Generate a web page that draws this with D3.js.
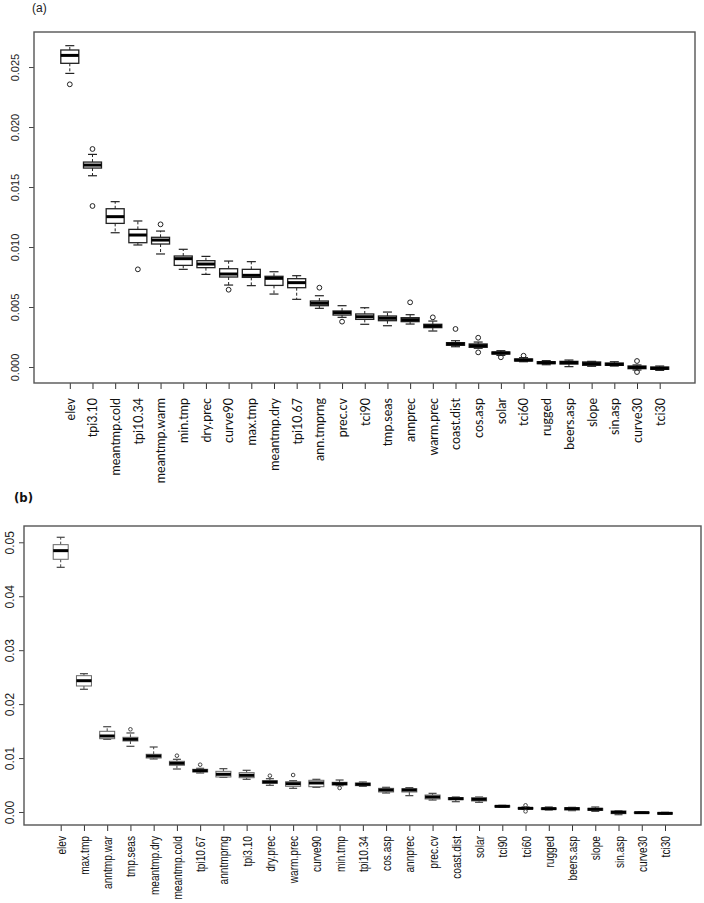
<!DOCTYPE html>
<html><head><meta charset="utf-8">
<script src="https://cdn.jsdelivr.net/npm/d3@7"></script>
<style>
html,body{margin:0;padding:0;background:#fff;}
svg{display:block;}
</style></head>
<body>
<svg id="c" width="704" height="903"></svg>
<script>
// ---------- Panel (a) data ----------
const catsA = ["elev","tpi3.10","meantmp.cold","tpi10.34","meantmp.warm","min.tmp","dry.prec","curve90","max.tmp","meantmp.dry","tpi10.67","ann.tmprng","prec.cv","tci90","tmp.seas","annprec","warm.prec","coast.dist","cos.asp","solar","tci60","rugged","beers.asp","slope","sin.asp","curve30","tci30"];
const loA  = [0.02447,0.01594,0.01119,0.01017,0.00942,0.00814,0.00772,0.00683,0.00678,0.00608,0.00564,0.00489,0.00414,0.00356,0.00344,0.00358,0.00300,0.00169,0.00156,0.00097,0.00044,0.00019,0.00003,0.00006,0.00008,-0.00025,-0.00028];
const q1A  = [0.02531,0.01658,0.01197,0.01036,0.01025,0.00847,0.00828,0.00750,0.00747,0.00680,0.00661,0.00511,0.00433,0.00397,0.00386,0.00378,0.00328,0.00181,0.00164,0.00108,0.00050,0.00028,0.00025,0.00014,0.00014,-0.00014,-0.00019];
const medA = [0.02597,0.01683,0.01253,0.01100,0.01058,0.00903,0.00858,0.00775,0.00764,0.00739,0.00703,0.00531,0.00453,0.00419,0.00406,0.00394,0.00342,0.00192,0.00178,0.00117,0.00058,0.00036,0.00036,0.00028,0.00022,-0.00003,-0.00011];
const q3A  = [0.02642,0.01708,0.01319,0.01147,0.01081,0.00925,0.00886,0.00819,0.00814,0.00756,0.00736,0.00550,0.00467,0.00442,0.00425,0.00411,0.00356,0.00203,0.00192,0.00125,0.00067,0.00044,0.00047,0.00042,0.00033,0.00008,0.00000];
const hiA  = [0.02678,0.01772,0.01378,0.01217,0.01133,0.00981,0.00922,0.00883,0.00878,0.00794,0.00761,0.00594,0.00511,0.00494,0.00458,0.00436,0.00383,0.00219,0.00208,0.00136,0.00078,0.00053,0.00058,0.00047,0.00044,0.00017,0.00008];
const outCatA = ["elev","tpi3.10","tpi3.10","tpi10.34","meantmp.warm","curve90","ann.tmprng","prec.cv","annprec","warm.prec","coast.dist","cos.asp","cos.asp","solar","tci60","curve30","curve30"];
const outValA = [0.02356,0.01817,0.01342,0.00814,0.01189,0.00644,0.00661,0.00378,0.00539,0.00414,0.00317,0.00244,0.00122,0.00081,0.00094,0.00050,-0.00042];
const yTicksA = [0.000,0.005,0.010,0.015,0.020,0.025];
const yTickLabelsA = ["0.000","0.005","0.010","0.015","0.020","0.025"];

// ---------- Panel (b) data ----------
const catsB = ["elev","max.tmp","anntmp.war","tmp.seas","meantmp.dry","meantmp.cold","tpi10.67","anntmprng","tpi3.10","dry.prec","warm.prec","curve90","min.tmp","tpi10.34","cos.asp","annprec","prec.cv","coast.dist","solar","tci90","tci60","rugged","beers.asp","slope","sin.asp","curve30","tci30"];
const loB  = [0.04536,0.02275,0.01348,0.01218,0.00983,0.00797,0.00723,0.00643,0.00606,0.00495,0.00439,0.00458,0.00488,0.00476,0.00352,0.00303,0.00222,0.00191,0.00180,0.00087,0.00050,0.00037,0.00025,0.00012,-0.00050,-0.00025,-0.00043];
const q1B  = [0.04685,0.02336,0.01359,0.01316,0.01001,0.00866,0.00742,0.00649,0.00636,0.00532,0.00476,0.00469,0.00501,0.00488,0.00371,0.00371,0.00241,0.00229,0.00204,0.00093,0.00056,0.00050,0.00037,0.00031,-0.00031,-0.00019,-0.00037];
const medB = [0.04845,0.02434,0.01409,0.01348,0.01038,0.00903,0.00766,0.00699,0.00680,0.00556,0.00525,0.00538,0.00525,0.00513,0.00408,0.00408,0.00278,0.00247,0.00235,0.00105,0.00068,0.00062,0.00062,0.00050,-0.00006,-0.00012,-0.00025];
const q3B  = [0.04956,0.02527,0.01496,0.01385,0.01070,0.00940,0.00792,0.00754,0.00729,0.00580,0.00562,0.00588,0.00551,0.00538,0.00439,0.00432,0.00315,0.00266,0.00266,0.00117,0.00080,0.00074,0.00080,0.00068,0.00019,-0.00006,-0.00012];
const hiB  = [0.05093,0.02564,0.01581,0.01465,0.01205,0.00977,0.00810,0.00803,0.00773,0.00617,0.00580,0.00606,0.00593,0.00556,0.00458,0.00451,0.00346,0.00278,0.00278,0.00124,0.00093,0.00093,0.00087,0.00093,0.00025,0.00000,-0.00006];
const outCatB = ["tmp.seas","meantmp.cold","tpi10.67","dry.prec","warm.prec","min.tmp","tci60","tci60"];
const outValB = [0.01533,0.01044,0.00877,0.00673,0.00686,0.00445,0.00124,0.00012];
const yTicksB = [0.00,0.01,0.02,0.03,0.04,0.05];
const yTickLabelsB = ["0.00","0.01","0.02","0.03","0.04","0.05"];

const svg = d3.select("#c");

function panel(cfg) {
  const g = svg.append("g");
  const x = d3.scalePoint().domain(cfg.cats).range(cfg.xr);
  const y = d3.scaleLinear().domain(cfg.yd).range(cfg.yr);
  const [L, R] = cfg.frameX, [T, B] = cfg.frameY;

  // y axis
  const ya = g.append("g").attr("transform", `translate(${L},0)`)
    .call(d3.axisLeft(y).tickValues(cfg.yTicks).tickSize(5).tickFormat((d,i)=>cfg.yLabels[i]));
  ya.select(".domain").remove();
  ya.selectAll(".tick line").attr("stroke", "#444").attr("stroke-width", 1);
  ya.selectAll(".tick text")
    .attr("x", null).attr("dy", null)
    .attr("transform", `translate(${cfg.yLabelX - L},0) rotate(-90)`)
    .attr("text-anchor", "middle").attr("dy", "0.35em")
    .attr("font-family", cfg.yFont).attr("font-size", cfg.yFontSize).attr("fill", "#222");

  // x axis
  const xa = g.append("g").attr("transform", `translate(0,${B})`)
    .call(d3.axisBottom(x).tickSize(6));
  xa.select(".domain").remove();
  xa.selectAll(".tick line").attr("stroke", "#333").attr("stroke-width", 1);
  xa.selectAll(".tick text")
    .attr("y", null).attr("dy", null)
    .attr("transform", `translate(0,${cfg.xLabelTop - B}) rotate(-90) scale(${cfg.xScale},1)`)
    .attr("text-anchor", "end").attr("dy", "0.35em")
    .attr("font-family", cfg.xFont).attr("font-size", cfg.xFontSize).attr("fill", "#111");

  // frame
  g.append("rect").attr("x", L).attr("y", T).attr("width", R - L).attr("height", B - T)
    .attr("fill", "none").attr("stroke", "#555").attr("stroke-width", 1.4);

  const bw = cfg.boxW, sw = cfg.stapleW;
  const boxes = g.append("g").selectAll("g").data(cfg.cats).join("g");
  // whiskers (dashed)
  boxes.append("line").attr("x1", d=>x(d)).attr("x2", d=>x(d))
    .attr("y1", (d,i)=>y(cfg.q3[i])).attr("y2", (d,i)=>y(cfg.hi[i]))
    .attr("stroke", cfg.lineCol).attr("stroke-dasharray", "3,2");
  boxes.append("line").attr("x1", d=>x(d)).attr("x2", d=>x(d))
    .attr("y1", (d,i)=>y(cfg.q1[i])).attr("y2", (d,i)=>y(cfg.lo[i]))
    .attr("stroke", cfg.lineCol).attr("stroke-dasharray", "3,2");
  // staples
  boxes.append("line").attr("x1", d=>x(d)-sw/2).attr("x2", d=>x(d)+sw/2)
    .attr("y1", (d,i)=>y(cfg.hi[i])).attr("y2", (d,i)=>y(cfg.hi[i]))
    .attr("stroke", cfg.lineCol).attr("stroke-width", 1.2);
  boxes.append("line").attr("x1", d=>x(d)-sw/2).attr("x2", d=>x(d)+sw/2)
    .attr("y1", (d,i)=>y(cfg.lo[i])).attr("y2", (d,i)=>y(cfg.lo[i]))
    .attr("stroke", cfg.lineCol).attr("stroke-width", 1.2);
  // box
  boxes.append("rect").attr("x", d=>x(d)-bw/2).attr("width", bw)
    .attr("y", (d,i)=>y(cfg.q3[i])).attr("height", (d,i)=>Math.max(0.5, y(cfg.q1[i]) - y(cfg.q3[i])))
    .attr("fill", "#fff").attr("stroke", cfg.boxCol).attr("stroke-width", cfg.boxSW);
  // median
  boxes.append("line").attr("x1", d=>x(d)-bw/2).attr("x2", d=>x(d)+bw/2)
    .attr("y1", (d,i)=>y(cfg.med[i])).attr("y2", (d,i)=>y(cfg.med[i]))
    .attr("stroke", "#000").attr("stroke-width", 3);
  // outliers
  g.append("g").selectAll("circle").data(cfg.outCat).join("circle")
    .attr("cx", d=>x(d)).attr("cy", (d,i)=>y(cfg.outVal[i])).attr("r", cfg.outR)
    .attr("fill", "none").attr("stroke", cfg.lineCol).attr("stroke-width", 1);
}

panel({
  cats: catsA, lo: loA, q1: q1A, med: medA, q3: q3A, hi: hiA, outCat: outCatA, outVal: outValA,
  xr: [69.8, 659.7], yd: [-0.001333, 0.02792], yr: [383, 32],
  frameX: [34, 695], frameY: [32, 383],
  yTicks: yTicksA, yLabels: yTickLabelsA, yLabelX: 15, yFont: "'Liberation Sans', Arial, sans-serif", yFontSize: "11px",
  xLabelTop: 398, xFont: "Lato, 'Open Sans', sans-serif", xFontSize: "12.5px", xScale: 1,
  boxW: 18, stapleW: 9, lineCol: "#222", boxCol: "#222", boxSW: 1.3, outR: 2.4
});

panel({
  cats: catsB, lo: loB, q1: q1B, med: medB, q3: q3B, hi: hiB, outCat: outCatB, outVal: outValB,
  xr: [60.7, 665], yd: [-0.00241, 0.05302], yr: [825, 526],
  frameX: [24, 701], frameY: [526, 825],
  yTicks: yTicksB, yLabels: yTickLabelsB, yLabelX: 10, yFont: "'Liberation Sans', Arial, sans-serif", yFontSize: "12px",
  xLabelTop: 836, xFont: "'Liberation Sans', Arial, sans-serif", xFontSize: "13px", xScale: 0.78,
  boxW: 15, stapleW: 8, lineCol: "#444", boxCol: "#666", boxSW: 1, outR: 1.8
});

// panel titles
svg.append("text").attr("x", 32).attr("y", 12).text("(a)")
  .attr("font-family", "'Liberation Sans', Arial, sans-serif").attr("font-size", "12px").attr("fill", "#222");
svg.append("text").attr("x", 14).attr("y", 502).text("(b)")
  .attr("font-family", "'Liberation Sans Narrow', 'DejaVu Sans Condensed', Arial, sans-serif")
  .attr("font-weight", "bold").attr("font-size", "13px").attr("fill", "#111");
</script>
</body></html>
